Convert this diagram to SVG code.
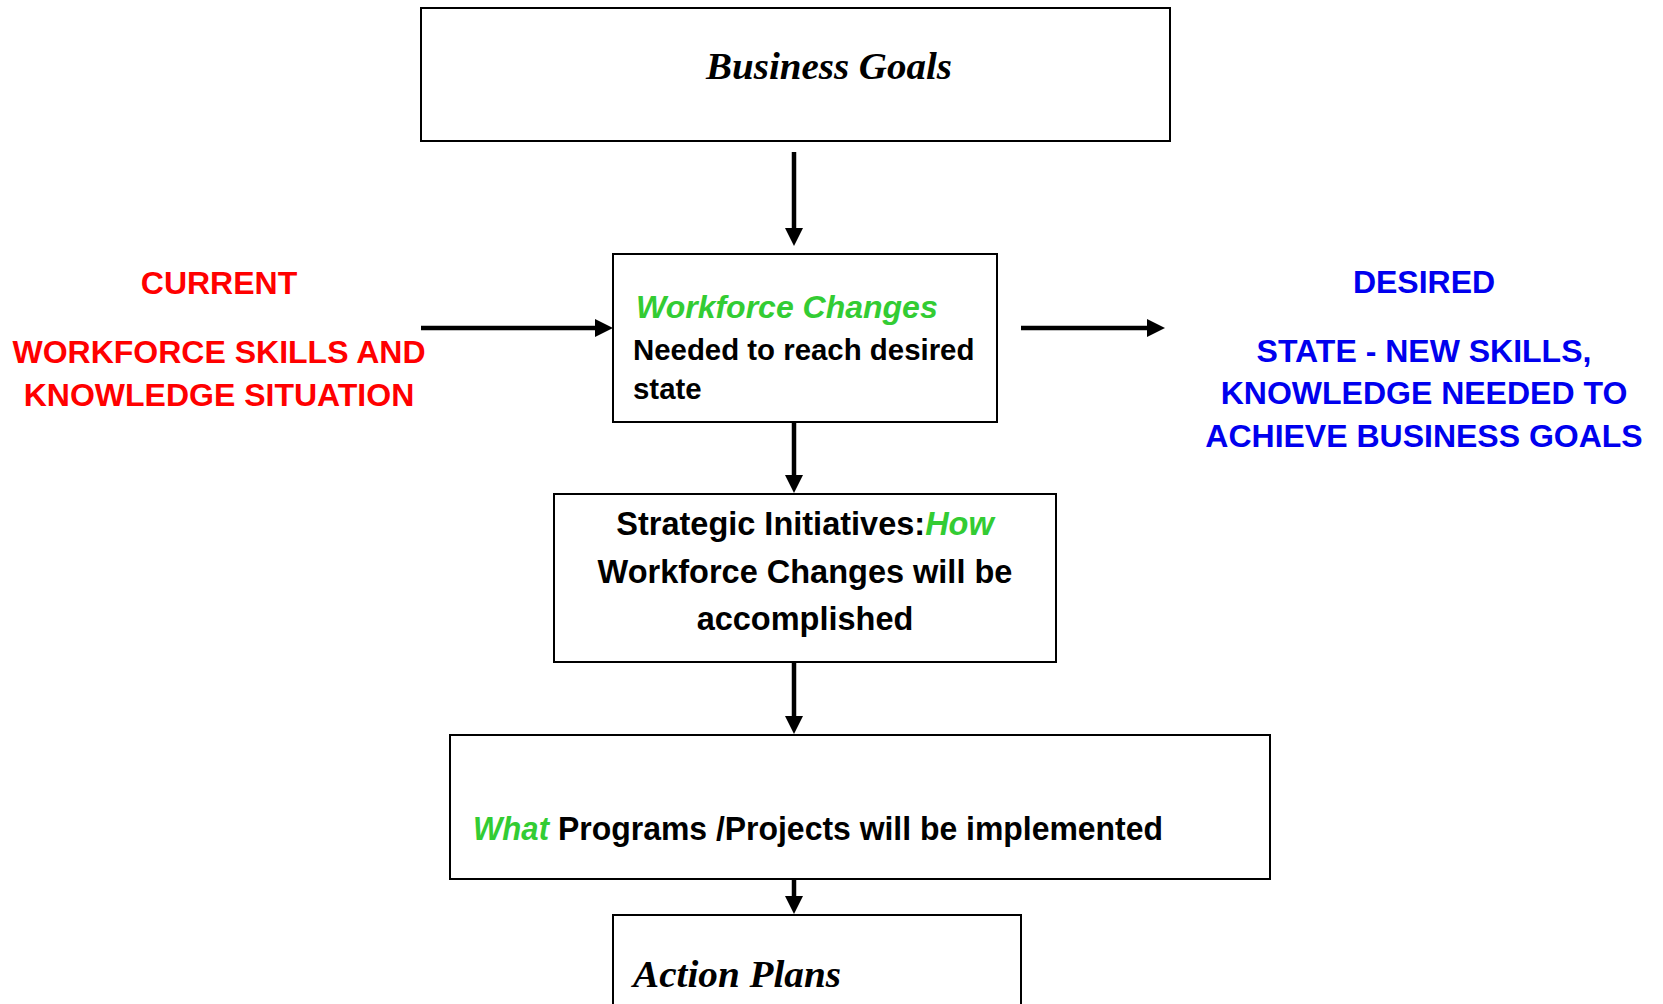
<svg xmlns="http://www.w3.org/2000/svg" width="1663" height="1004" viewBox="0 0 1663 1004">
<style>
.box{fill:#fff;stroke:#000;stroke-width:2}
.conn{stroke:#000;stroke-width:4.5;fill:none}
.sans{font-family:"Liberation Sans",Arial,sans-serif;font-weight:bold}
.serif{font-family:"Liberation Serif","Times New Roman",serif;font-weight:bold;font-style:italic}
.green{fill:#33cc33;font-style:italic}
.red{fill:#ff0000}
.blue{fill:#0000ee}
</style>
<defs>
<marker id="ah" markerUnits="userSpaceOnUse" markerWidth="18" markerHeight="18" refX="0" refY="9" orient="auto">
<path d="M0,0 L18,9 L0,18 z" fill="#000"/>
</marker>
</defs>
<rect width="1663" height="1004" fill="#fff"/>
<g id="connectors">
<line class="conn" x1="794" y1="152" x2="794" y2="228" marker-end="url(#ah)"/>
<line class="conn" x1="421" y1="328" x2="595" y2="328" marker-end="url(#ah)"/>
<line class="conn" x1="1021" y1="328" x2="1147" y2="328" marker-end="url(#ah)"/>
<line class="conn" x1="794" y1="422" x2="794" y2="475" marker-end="url(#ah)"/>
<line class="conn" x1="794" y1="662" x2="794" y2="716" marker-end="url(#ah)"/>
<line class="conn" x1="794" y1="879" x2="794" y2="896" marker-end="url(#ah)"/>
</g>
<g id="business-goals">
<rect class="box" x="421" y="8" width="749" height="133"/>
<text class="serif" x="829" y="79" font-size="38" text-anchor="middle" textLength="246" lengthAdjust="spacingAndGlyphs">Business Goals</text>
</g>
<g id="current">
<text class="sans red" font-size="32" text-anchor="middle"><tspan x="219" y="294">CURRENT</tspan><tspan x="219" y="363">WORKFORCE SKILLS AND</tspan><tspan x="219" y="406">KNOWLEDGE SITUATION</tspan></text>
</g>
<g id="workforce-changes">
<rect class="box" x="613" y="254" width="384" height="168"/>
<text class="sans green" x="636" y="318" font-size="32">Workforce Changes</text>
<text class="sans" font-size="29.4"><tspan x="633" y="360">Needed to reach desired</tspan><tspan x="633" y="399">state</tspan></text>
</g>
<g id="desired">
<text class="sans blue" font-size="32" text-anchor="middle"><tspan x="1424" y="293">DESIRED</tspan><tspan x="1424" y="362">STATE - NEW SKILLS,</tspan><tspan x="1424" y="404">KNOWLEDGE NEEDED TO</tspan><tspan x="1424" y="447">ACHIEVE BUSINESS GOALS</tspan></text>
</g>
<g id="strategic-initiatives">
<rect class="box" x="554" y="494" width="502" height="168"/>
<text class="sans" font-size="32.5" text-anchor="middle"><tspan x="805" y="535">Strategic Initiatives:<tspan class="green">How</tspan></tspan><tspan x="805" y="583">Workforce Changes will be</tspan><tspan x="805" y="630">accomplished</tspan></text>
</g>
<g id="programs">
<rect class="box" x="450" y="735" width="820" height="144"/>
<text class="sans green" x="473" y="840" font-size="34" textLength="76" lengthAdjust="spacingAndGlyphs">What</text>
<text class="sans" x="558" y="840" font-size="34" textLength="605" lengthAdjust="spacingAndGlyphs">Programs /Projects will be implemented</text>
</g>
<g id="action-plans">
<rect class="box" x="613" y="915" width="408" height="100"/>
<text class="serif" x="633" y="987" font-size="38" textLength="208" lengthAdjust="spacingAndGlyphs">Action Plans</text>
</g>
</svg>
